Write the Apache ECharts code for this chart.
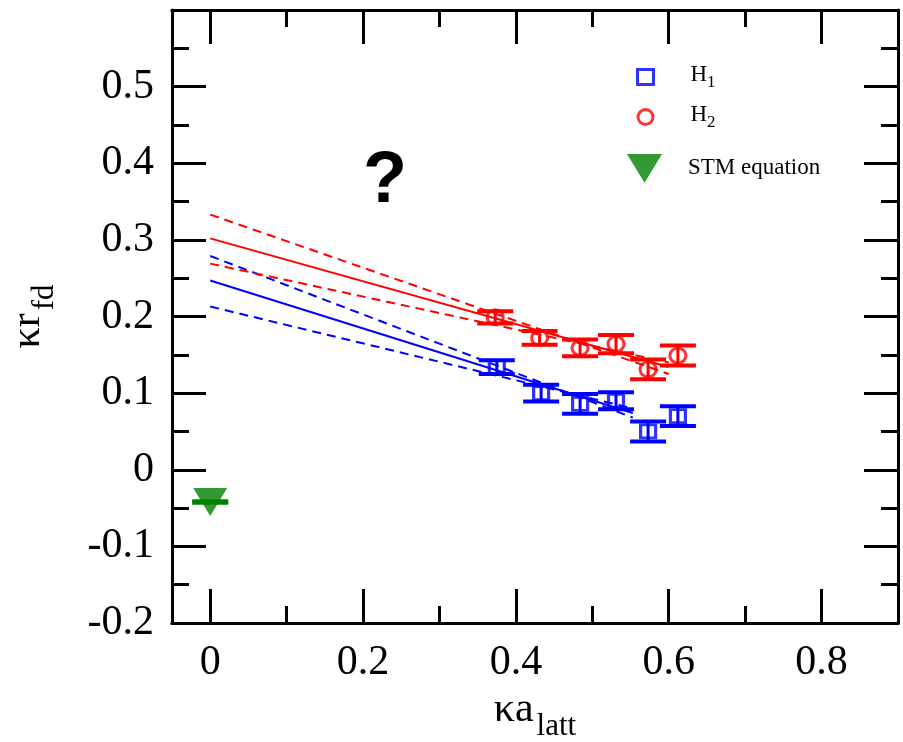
<!DOCTYPE html>
<html>
<head>
<meta charset="utf-8">
<script src="https://cdn.jsdelivr.net/npm/echarts@6/dist/echarts.min.js"></script>
<style>
  html, body { margin: 0; padding: 0; background: #fff; }
  #chart { width: 903px; height: 742px; }
</style>
</head>
<body>
<div id="chart"></div>
<script>
// x ticks
const xMajor = [0, 0.2, 0.4, 0.6, 0.8];
const xMinor = [0.1, 0.3, 0.5, 0.7];

// H1 (blue squares): [x, y, error]
const h1Points = [
  [0.375, 0.134, 0.009],
  [0.433, 0.100, 0.011],
  [0.484, 0.086, 0.013],
  [0.531, 0.090, 0.011],
  [0.573, 0.050, 0.013],
  [0.612, 0.070, 0.013],
];

// H2 (red circles): [x, y, error]
const h2Points = [
  [0.373, 0.199, 0.008],
  [0.431, 0.172, 0.009],
  [0.484, 0.159, 0.011],
  [0.531, 0.164, 0.012],
  [0.573, 0.131, 0.013],
  [0.612, 0.149, 0.013],
];

// STM equation point
const stmPoint = [[0, -0.042, 0.001]];

// fit lines (start, end)
const h1Fit = [[0, 0.247], [0.553, 0.074]];
const h1FitUp = [[0, 0.279], [0.553, 0.068]];
const h1FitLow = [[0, 0.213], [0.553, 0.080]];
const h2Fit = [[0, 0.302], [0.6, 0.134]];
const h2FitUp = [[0, 0.333], [0.6, 0.125]];
const h2FitLow = [[0, 0.269], [0.6, 0.140]];

const serif = "'Liberation Serif', 'DejaVu Serif', serif";

function errorBars(color) {
  return function (params, api) {
    const x = api.value(0), y = api.value(1), e = api.value(2);
    const hi = api.coord([x, y + e]);
    const lo = api.coord([x, y - e]);
    const w = 18;
    const cap = { stroke: color, lineWidth: 4 };
    return {
      type: "group",
      children: [
        { type: "line", shape: { x1: hi[0], y1: hi[1], x2: lo[0], y2: lo[1] }, style: { stroke: color, lineWidth: 3 } },
        { type: "line", shape: { x1: hi[0] - w, y1: hi[1], x2: hi[0] + w, y2: hi[1] }, style: cap },
        { type: "line", shape: { x1: lo[0] - w, y1: lo[1], x2: lo[0] + w, y2: lo[1] }, style: cap },
      ],
    };
  };
}

function fitLine(data, color, dashed) {
  return {
    type: "line",
    data: data,
    showSymbol: false,
    silent: true,
    lineStyle: { color: color, width: 2, type: dashed ? [9, 6] : "solid" },
    z: 1,
  };
}

const tri = "path://M0,0L34,0L17,28Z";
const axisLine = { show: true, onZero: false, lineStyle: { color: "#000", width: 3 } };

function xAxisDef(pos, values, len, labels) {
  return {
    type: "value",
    min: -0.05,
    max: 0.9,
    position: pos,
    axisLine: axisLine,
    axisTick: { show: true, inside: true, length: len, customValues: values, lineStyle: { color: "#000", width: 3 } },
    axisLabel: labels
      ? { show: true, customValues: values, color: "#000", fontFamily: serif, fontSize: 42, margin: 19 }
      : { show: false },
    splitLine: { show: false },
  };
}

function yAxisDef(pos, labels) {
  return {
    type: "value",
    min: -0.2,
    max: 0.6,
    interval: 0.1,
    position: pos,
    axisLine: axisLine,
    axisTick: { show: true, inside: true, length: 34, lineStyle: { color: "#000", width: 3 } },
    minorTick: { show: true, splitNumber: 2, length: 17, lineStyle: { color: "#000", width: 3 } },
    axisLabel: labels
      ? { show: true, showMaxLabel: false, color: "#000", fontFamily: serif, fontSize: 42, margin: 18 }
      : { show: false },
    splitLine: { show: false },
    minorSplitLine: { show: false },
  };
}

const titleRich = {
  k: { fontFamily: serif, fontSize: 42, color: "#000", verticalAlign: "top" },
  s: { fontFamily: serif, fontSize: 31, color: "#000", verticalAlign: "top", padding: [22, 0, 0, 3] },
};

const xBottom = xAxisDef("bottom", xMajor, 34, true);
xBottom.name = "{k|κa}{s|latt}";
xBottom.nameLocation = "middle";
xBottom.nameGap = 62;
xBottom.nameTextStyle = { rich: titleRich };

const yLeft = yAxisDef("left", true);
yLeft.name = "{k|κr}{s|fd}";
yLeft.nameLocation = "middle";
yLeft.nameGap = 112;
yLeft.nameRotate = 90;
yLeft.nameTextStyle = { rich: titleRich };

const chart = echarts.init(document.getElementById("chart"), null, { renderer: "canvas" });

chart.setOption({
  animation: false,
  backgroundColor: "#fff",
  grid: { left: 172, right: 5, top: 10, bottom: 119, containLabel: false, outerBoundsMode: "none" },
  xAxis: [
    xBottom,
    xAxisDef("bottom", xMinor, 17, false),
    xAxisDef("top", xMajor, 34, false),
    xAxisDef("top", xMinor, 17, false),
  ],
  yAxis: [yLeft, yAxisDef("right", false)],
  legend: [
    {
      orient: "vertical",
      left: 636,
      top: 63,
      padding: 0,
      itemWidth: 16,
      itemHeight: 15,
      itemGap: 12,
      selectedMode: false,
      data: [
        { name: "H1", icon: "rect", itemStyle: { color: "rgba(0,0,0,0)", borderColor: "#0000ff", borderWidth: 3 } },
        { name: "H2", icon: "circle", itemStyle: { color: "rgba(0,0,0,0)", borderColor: "#ff0000", borderWidth: 3 } },
      ],
      formatter: function (name) {
        return "{h|H}{s|" + name.slice(1) + "}";
      },
      textStyle: {
        rich: {
          h: { fontFamily: serif, fontSize: 23, color: "#000", verticalAlign: "top", padding: [0, 0, 0, 32] },
          s: { fontFamily: serif, fontSize: 17, color: "#000", verticalAlign: "top", padding: [11, 0, 0, 0] },
        },
      },
    },
    {
      orient: "vertical",
      left: 627,
      top: 154,
      padding: 0,
      itemWidth: 35,
      itemHeight: 29,
      selectedMode: false,
      data: [{ name: "STM equation", icon: tri, itemStyle: { color: "#008000" } }],
      textStyle: { fontFamily: serif, fontSize: 23, color: "#000", padding: [0, 0, 12, 21] },
    },
  ],
  graphic: [
    {
      type: "text",
      left: 363,
      top: 146,
      style: { text: "?", font: "bold 72px 'Liberation Sans', Arial, sans-serif", fill: "#000" },
    },
  ],
  series: [
    fitLine(h1Fit, "#0000ff", false),
    fitLine(h1FitUp, "#0000ff", true),
    fitLine(h1FitLow, "#0000ff", true),
    fitLine(h2Fit, "#ff0000", false),
    fitLine(h2FitUp, "#ff0000", true),
    fitLine(h2FitLow, "#ff0000", true),
    { type: "custom", renderItem: errorBars("#0000ff"), data: h1Points, encode: { x: 0, y: 1 }, z: 3, silent: true },
    { type: "custom", renderItem: errorBars("#ff0000"), data: h2Points, encode: { x: 0, y: 1 }, z: 3, silent: true },
    { type: "custom", renderItem: errorBars("#008000"), data: stmPoint, encode: { x: 0, y: 1 }, z: 3, silent: true },
    {
      name: "H1",
      type: "scatter",
      data: h1Points,
      symbol: "rect",
      symbolSize: [15, 13],
      itemStyle: { color: "rgba(0,0,0,0)", borderColor: "#0000ff", borderWidth: 3 },
      z: 4,
    },
    {
      name: "H2",
      type: "scatter",
      data: h2Points,
      symbol: "circle",
      symbolSize: [16, 15],
      itemStyle: { color: "rgba(0,0,0,0)", borderColor: "#ff0000", borderWidth: 3 },
      z: 4,
    },
    {
      name: "STM equation",
      type: "scatter",
      data: stmPoint,
      symbol: tri,
      symbolSize: [34, 28],
      itemStyle: { color: "#008000" },
      z: 4,
    },
  ],
});
</script>
</body>
</html>
